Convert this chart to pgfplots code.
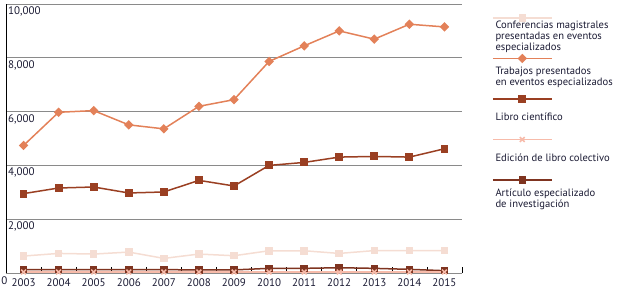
\documentclass[border=0pt]{standalone}
\usepackage{fontspec}
\setmainfont{PT Sans}
\usepackage{pgfplots}
\pgfplotsset{compat=1.18}
\usepackage{pgfplotstable}
\definecolor{txt}{HTML}{1A1A33}
\definecolor{cConf}{HTML}{F5DDD3}
\definecolor{cTrab}{HTML}{E38159}
\definecolor{cLibro}{HTML}{9A3F22}
\definecolor{cEdic}{HTML}{F7BBAA}
\definecolor{cArt}{HTML}{7F3420}
\definecolor{gridc}{HTML}{8A8A8A}

\pgfplotstableread{
year conf trab libro edic art
2003 630 4741 2951 35 130
2004 728 5975 3160 35 130
2005 704 6037 3197 35 125
2006 778 5507 2975 35 125
2007 543 5359 3012 35 125
2008 704 6196 3444 35 115
2009 642 6444 3235 35 115
2010 827 7864 4000 35 173
2011 827 8444 4111 35 173
2012 728 9000 4309 35 196
2013 833 8693 4333 35 173
2014 833 9248 4309 35 136
2015 833 9148 4618 35 86
}\datatable

\begin{document}
\begin{tikzpicture}
\begin{axis}[
  name=ax,
  scale only axis,
  width=456pt, height=269pt,
  xmin=2002.5, xmax=2015.5,
  ymin=0, ymax=10000,
  axis x line*=bottom, axis y line*=left,
  x axis line style={draw=gridc, line width=0.8pt},
  y axis line style={draw=black, line width=0.8pt},
  xtick={2003,...,2015},
  minor xtick={2003.5,2004.5,...,2015.5},
  xticklabel style={/pgf/number format/1000 sep={}, text=txt, font=\fontsize{11}{12}\selectfont, yshift=-2pt},
  major x tick style={draw=none},
  minor x tick style={draw=black, line width=0.6pt},
  minor tick length=6pt,
  xtick align=inside,
  ytick={2000,4000,6000,8000,10000},
  ytick style={draw=none},
  ymajorgrids,
  grid style={draw=gridc, line width=0.8pt},
  /pgf/number format/assume math mode=true,
  /pgf/number format/1000 sep={,},
  scaled y ticks=false,
  yticklabel style={anchor=north west, inner sep=0pt, xshift=2pt, yshift=-2.5pt, text=txt, font=\fontsize{11}{12}\selectfont},
  extra y ticks={0},
  extra y tick style={yticklabel style={anchor=north east, xshift=-0.5pt, yshift=-1pt}},
  clip=false,
  legend image code/.code={%
    \path (0,0);
    \draw[mark repeat=2, mark phase=2, #1, overlay] plot coordinates {(0pt,18.5pt) (29.5pt,18.5pt) (59pt,18.5pt)};
  },
  legend style={draw=none, fill=none, inner sep=0pt, outer sep=0pt,
    row sep=0pt, column sep=0pt,
    at={(1.0658,0.9545)}, anchor=north west,
    font=\fontsize{10.6}{11}\selectfont, text=txt,
    cells={anchor=west, align=left, minimum height=40.5pt, inner sep=0pt}},
]
\addplot[cArt, line width=1.5pt, mark=square*, mark size=3pt, mark options={solid}, forget plot] table[x=year, y=art] {\datatable};
\addplot[cConf, line width=1.5pt, mark=square*, mark size=3pt] table[x=year, y=conf] {\datatable};
\addlegendentry{Conferencias magistrales\\presentadas en eventos\\especializados}
\addplot[cTrab, line width=1.5pt, mark=square*, mark size=2.6pt, mark options={rotate=45}] table[x=year, y=trab] {\datatable};
\addlegendentry{Trabajos presentados\\en eventos especializados}
\addplot[cLibro, line width=1.5pt, mark=square*, mark size=3.2pt] table[x=year, y=libro] {\datatable};
\addlegendentry{Libro científico}
\addplot[cEdic, line width=1.5pt, mark=x, mark size=3.4pt] table[x=year, y=edic] {\datatable};
\addlegendentry{Edición de libro colectivo}
\addlegendimage{cArt, line width=1.5pt, mark=square*, mark size=3pt}
\addlegendentry{Artículo especializado\\de investigación}
\end{axis}
\pgfresetboundingbox
\path[use as bounding box] ([xshift=-6pt,yshift=-25pt]ax.south west) rectangle ([xshift=620pt,yshift=273pt]ax.south west);
\end{tikzpicture}
\end{document}
